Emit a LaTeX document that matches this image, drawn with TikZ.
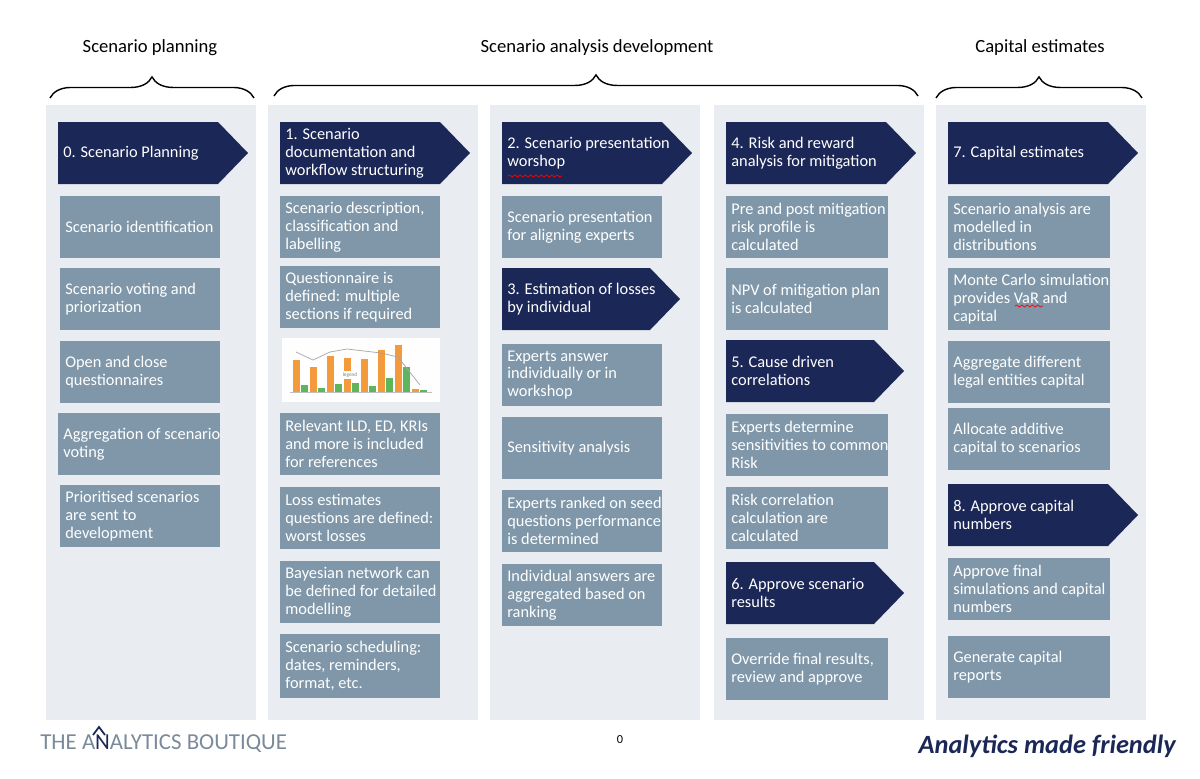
\documentclass[tikz,border=0pt]{standalone}
\usepackage{fontspec}
\setmainfont{Carlito}
\usetikzlibrary{decorations.pathreplacing,decorations.pathmorphing}
\definecolor{navy}{HTML}{1B2756}
\definecolor{slate}{HTML}{7F97A9}
\definecolor{panel}{HTML}{E9EDF1}
\definecolor{logo}{HTML}{7A8A9A}
\definecolor{barA}{HTML}{F39A3C}
\definecolor{barB}{HTML}{5DB55D}
\tikzset{
  pnl/.style={fill=panel,draw=none},
  box/.style={fill=slate,text=white,align=left,anchor=north west,inner sep=0pt,
    font=\fontsize{9.3}{10.2}\selectfont},
  htxt/.style={text=white,align=left,anchor=west,inner sep=0pt,
    font=\fontsize{9.3}{10.2}\selectfont},
  brc/.style={decorate,decoration={brace,amplitude=12pt},line width=0.8pt},
  blab/.style={font=\fontsize{10.6}{12}\selectfont},
  squig/.style={red,line width=0.4pt,decorate,decoration={snake,amplitude=0.6pt,segment length=3pt}}
}
% gray box: name, x1, y1, x2, y2, text
\newcommand{\gbox}[6]{%
  \fill[slate] (#2,#3) rectangle (#4,#5);
  \node[htxt] (#1) at (#2+5,{(#3+#5)/2}) {#6};}
% header arrow: name, x1, y1, x2, y2, text
\newcommand{\hdr}[6]{%
  \fill[navy] (#2,#3) -- (#4-30,#3) -- (#4,{(#3+#5)/2}) -- (#4-30,#5) -- (#2,#5) -- cycle;
  \node[htxt] (#1) at (#2+5,{(#3+#5)/2}) {#6};}
\begin{document}
\begin{tikzpicture}[x=0.02cm,y=-0.02cm]
\useasboundingbox (0,0) rectangle (1200,778);

% ----- panels -----
\fill[pnl] (46,105) rectangle (256,720);
\fill[pnl] (268,105) rectangle (478,720);
\fill[pnl] (490,105) rectangle (700,720);
\fill[pnl] (714,105) rectangle (924,720);
\fill[pnl] (936,105) rectangle (1146,720);

% ----- braces & phase labels -----
\draw[brc] (50,98) -- (254,98);
\draw[brc] (274,96) -- (918,96);
\draw[brc] (936,98) -- (1142,98);
\node[blab] (phPlan) at (150,48) {Scenario planning};
\node[blab] (phDev) at (597,48) {Scenario analysis development};
\node[blab] (phCap) at (1040,48) {Capital estimates};

% ===== column 0 =====
\hdr{h0}{58}{122}{248}{184}{0. Scenario Planning}
\gbox{b01}{60}{196}{220}{258}{Scenario identification}
\gbox{b02}{60}{268}{220}{330}{Scenario voting and\\priorization}
\gbox{b03}{60}{341}{220}{403}{Open and close\\questionnaires}
\gbox{b04}{58}{413}{220}{475}{Aggregation of scenario\\voting}
\gbox{b05}{60}{485}{220}{547}{Prioritised scenarios\\are sent to\\development}

% ===== column 1 =====
\hdr{h1}{280}{122}{470}{184}{1. Scenario\\documentation and\\workflow structuring}
\gbox{b11}{280}{196}{440}{258}{Scenario description,\\classification and\\labelling}
\gbox{b12}{280}{266}{440}{328}{Questionnaire is\\defined: multiple\\sections if required}
% chart thumbnail
\fill[white!94!panel] (282,338) rectangle (440,402);
\draw[gray!50,line width=0.3pt] (290,392) -- (432,392);
\foreach \i/\a/\b in {0/360/385,1/367/388,2/356/384,3/358/383,4/359/386,5/350/378,6/345/367,7/389/390}{
  \fill[barA] (293+\i*17,\a) rectangle (300+\i*17,392);
  \fill[barB] (301+\i*17,\b) rectangle (308+\i*17,392);
}
\draw[gray!70,line width=0.4pt] (296,352) -- (313,360) -- (330,352) -- (347,349) -- (364,351) -- (381,353) -- (398,357) -- (420,385);
\node[box,fill=white,text=gray,font=\fontsize{3}{3}\selectfont,anchor=center,inner sep=1pt] (chartTag) at (350,375) {legend};

\gbox{b13}{280}{413}{440}{475}{Relevant ILD, ED, KRIs\\and more is included\\for references}
\gbox{b14}{280}{487}{440}{549}{Loss estimates\\questions are defined:\\worst losses}
\gbox{b15}{280}{561}{440}{623}{Bayesian network can\\be defined for detailed\\modelling}
\gbox{b16}{280}{634}{440}{698}{Scenario scheduling:\\dates, reminders,\\format, etc.}

% ===== column 2 =====
\hdr{h2}{502}{122}{692}{184}{2. Scenario presentation\\worshop}
\draw[squig] (508,176) -- (562,176);
\gbox{b21}{502}{196}{662}{258}{Scenario presentation\\for aligning experts}
\hdr{h3}{502}{268}{680}{330}{3. Estimation of losses\\by individual}
\gbox{b22}{502}{344}{662}{406}{Experts answer\\individually or in\\workshop}
\gbox{b23}{502}{417}{662}{479}{Sensitivity analysis}
\gbox{b24}{502}{490}{662}{552}{Experts ranked on seed\\questions performance\\is determined}
\gbox{b25}{502}{564}{662}{626}{Individual answers are\\aggregated based on\\ranking}

% ===== column 3 =====
\hdr{h4}{726}{122}{916}{184}{4. Risk and reward\\analysis for mitigation}
\gbox{b31}{726}{196}{888}{258}{Pre and post mitigation\\risk profile is\\calculated}
\gbox{b32}{726}{268}{888}{330}{NPV of mitigation plan\\is calculated}
\hdr{h5}{726}{340}{904}{402}{5. Cause driven\\correlations}
\gbox{b33}{726}{414}{888}{476}{Experts determine\\sensitivities to common\\Risk}
\gbox{b34}{726}{487}{888}{549}{Risk correlation\\calculation are\\calculated}
\hdr{h6}{726}{562}{904}{624}{6. Approve scenario\\results}
\gbox{b35}{726}{638}{888}{700}{Override final results,\\review and approve}

% ===== column 4 =====
\hdr{h7}{948}{122}{1138}{184}{7. Capital estimates}
\gbox{b41}{948}{196}{1110}{258}{Scenario analysis are\\modelled in\\distributions}
\gbox{b42}{948}{268}{1110}{330}{Monte Carlo simulation\\provides VaR and\\capital}
\draw[squig] (1015,306) -- (1043,306);
\gbox{b43}{948}{341}{1110}{403}{Aggregate different\\legal entities capital}
\gbox{b44}{948}{408}{1110}{470}{Allocate additive\\capital to scenarios}
\hdr{h8}{948}{484}{1138}{546}{8. Approve capital\\numbers}
\gbox{b45}{948}{558}{1110}{620}{Approve final\\simulations and capital\\numbers}
\gbox{b46}{948}{636}{1110}{698}{Generate capital\\reports}

% ----- footer -----
\node[anchor=west,text=logo,inner sep=0pt,font=\fontsize{13}{14}\selectfont] (brand) at (40,744) {THE A\textcolor{navy}{N}ALYTICS BOUTIQUE};
\draw[navy,line width=1pt] (93,735) -- (99,727) -- (105,735);
\node[font=\fontsize{7}{8}\selectfont] (page) at (620,740) {0};
\node[anchor=east,text=navy,inner sep=0pt,font=\fontsize{15}{16}\selectfont\bfseries\itshape] (motto) at (1176,746) {Analytics made friendly};
\end{tikzpicture}
\end{document}
